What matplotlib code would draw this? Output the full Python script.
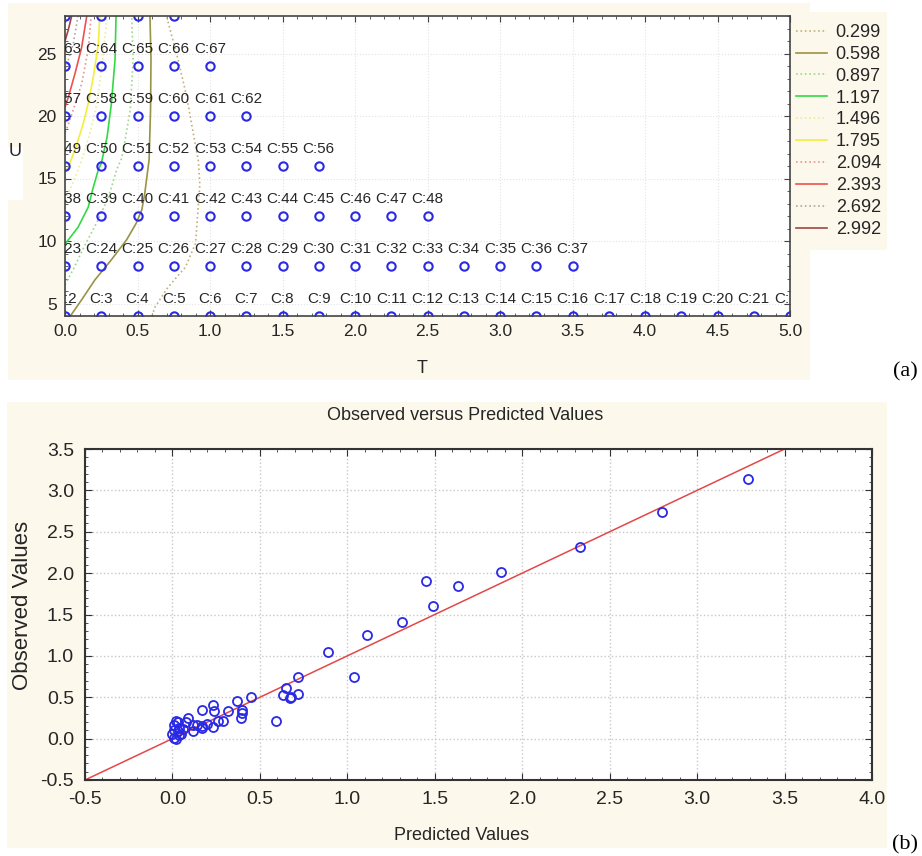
import numpy as np
import matplotlib
matplotlib.use("Agg")
import matplotlib.pyplot as plt
from matplotlib.patches import Rectangle
from matplotlib.ticker import MultipleLocator, FormatStrFormatter
from matplotlib.transforms import ScaledTranslation

# Panel (a): experimental design points (rows of constant U, T step 0.25)
design_U = [4, 8, 12, 16, 20, 24, 28]
design_T_max = [5.0, 3.5, 2.5, 1.75, 1.25, 1.0, 0.75]
first_case = 2

# Panel (a): contour lines, (T, U) pairs
levels = [0.299, 0.598, 0.897, 1.197, 1.496, 1.795, 2.094, 2.393, 2.692, 2.992]
c1_T = [0.60, 0.62, 0.71, 0.83, 0.90, 0.93, 0.92, 0.885, 0.84, 0.78, 0.70]
c1_U = [4.0, 4.7, 6.3, 7.9, 9.8, 14.5, 16.4, 18.6, 21.5, 24.5, 28.0]
c2_T = [0.034, 0.115, 0.207, 0.32, 0.425, 0.49, 0.53, 0.55, 0.58, 0.59, 0.593, 0.586]
c2_U = [3.95, 5.3, 6.9, 8.5, 10.1, 11.4, 12.5, 13.8, 16.5, 20.5, 24.5, 28.0]
c3_T = [0.0, 0.06, 0.13, 0.22, 0.30, 0.356, 0.39, 0.41, 0.45, 0.47, 0.46]
c3_U = [6.5, 7.8, 9.5, 11.5, 13.5, 15.7, 16.6, 17.8, 20.5, 24.5, 28.0]
c4_T = [0.0, 0.01, 0.09, 0.16, 0.195, 0.23, 0.25, 0.29, 0.32, 0.345, 0.352]
c4_U = [9.8, 9.9, 11.1, 12.7, 14.3, 15.7, 16.2, 18.3, 21.0, 24.5, 28.0]
c5_T = [0.0, 0.05, 0.11, 0.17, 0.22, 0.26, 0.29]
c5_U = [13.3, 14.5, 16.3, 18.5, 21.0, 24.5, 28.0]
c6_T = [0.0, 0.023, 0.069, 0.126, 0.16, 0.195, 0.23, 0.24]
c6_U = [15.5, 15.9, 17.3, 19.4, 21.0, 23.1, 25.8, 28.0]
c7_T = [0.0, 0.01, 0.057, 0.115, 0.16, 0.18]
c7_U = [18.7, 18.9, 20.5, 22.6, 25.3, 28.0]
c8_T = [0.0, 0.023, 0.069, 0.115, 0.15]
c8_U = [20.7, 21.5, 23.4, 25.5, 28.0]
c9_T = [0.0, 0.01, 0.057, 0.09]
c9_U = [23.8, 24.0, 25.8, 28.0]
c10_T = [0.0, 0.023, 0.046]
c10_U = [26.0, 26.9, 28.0]
contour_T = [c1_T, c2_T, c3_T, c4_T, c5_T, c6_T, c7_T, c8_T, c9_T, c10_T]
contour_U = [c1_U, c2_U, c3_U, c4_U, c5_U, c6_U, c7_U, c8_U, c9_U, c10_U]
contour_colors = ['#c2b07c', '#9a9246', '#9ad98a', '#33d944', '#ecec9c',
                  '#f4ee3a', '#e89494', '#ee5050', '#b4a4a4', '#a04646']
contour_styles = [':', '-', ':', '-', ':', '-', ':', '-', ':', '-']

# Panel (b): observed versus predicted values
predicted = [3.29, 2.80, 2.33, 1.88, 1.63, 1.45, 1.49, 1.31, 1.11, 1.04,
             0.89, 0.72, 0.72, 0.67, 0.68, 0.65, 0.63, 0.59, 0.45, 0.37,
             0.40, 0.40, 0.39, 0.32, 0.29, 0.26, 0.23, 0.24, 0.23, 0.17,
             0.17, 0.17, 0.12, 0.12, 0.09, 0.08, 0.06, 0.05, 0.04, 0.03,
             0.02, 0.01, 0.01, 0.00, 0.01, 0.02, 0.03, 0.04, 0.14, 0.20]
observed = [3.14, 2.74, 2.31, 2.01, 1.84, 1.91, 1.60, 1.41, 1.25, 0.74,
            1.05, 0.74, 0.54, 0.49, 0.50, 0.61, 0.53, 0.21, 0.50, 0.45,
            0.35, 0.31, 0.25, 0.33, 0.21, 0.21, 0.41, 0.33, 0.14, 0.34,
            0.15, 0.13, 0.17, 0.09, 0.25, 0.20, 0.12, 0.05, 0.04, 0.20,
            0.21, 0.17, 0.11, 0.06, 0.01, 0.00, 0.09, 0.13, 0.17, 0.18]
fit_x = [-0.5, 3.5]

W, H = 922, 856
cream = '#fcf8eb'
txt = '#262626'
plt.rcParams['font.family'] = ['Liberation Sans', 'DejaVu Sans']

fig = plt.figure(figsize=(W / 100, H / 100), dpi=100)
fig.patch.set_facecolor('white')


def box(x0, y0, x1, y1, color=cream):
    fig.add_artist(Rectangle((x0 / W, 1 - y1 / H), (x1 - x0) / W, (y1 - y0) / H,
                             transform=fig.transFigure, color=color, zorder=-5, lw=0))


box(8, 3, 810, 380)
box(792, 12, 887, 250)
box(0, 147, 23, 200, 'white')
box(7, 402, 887, 848)

# ---------------- panel (a) ----------------
ax1 = fig.add_axes([65 / W, 1 - 316 / H, 725 / W, 300 / H])
ax1.set_xlim(0, 5)
ax1.set_ylim(4, 28)

handles = []
for lv, T, U, c, ls in zip(levels, contour_T, contour_U, contour_colors, contour_styles):
    h, = ax1.plot(T, U, color=c, ls=ls, lw=1.2, label=f'{lv:.3f}')
    handles.append(h)

label_shift = ScaledTranslation(0, 12 / 72, fig.dpi_scale_trans)
case = first_case
for u, tmax in zip(design_U, design_T_max):
    Ts = np.arange(0, tmax + 0.001, 0.25)
    ax1.plot(Ts, [u] * len(Ts), 'o', mfc='none', mec='#2a2ae6', ms=6, mew=1.5)
    for t in Ts:
        # labels of the top row fall above the plot area and are not shown
        if u < ax1.get_ylim()[1]:
            ax1.text(t, u, f'C:{case}', ha='center', va='center', fontsize=11,
                     color=txt, clip_on=True,
                     transform=ax1.transData + label_shift)
        case += 1

ax1.xaxis.set_major_locator(MultipleLocator(0.5))
ax1.xaxis.set_minor_locator(MultipleLocator(0.1))
ax1.yaxis.set_major_locator(MultipleLocator(5))
ax1.yaxis.set_minor_locator(MultipleLocator(1))
ax1.xaxis.set_major_formatter(FormatStrFormatter('%.1f'))
ax1.tick_params(which='both', direction='in', top=True, right=True,
                labelsize=12.5, labelcolor=txt, color='#444444')
ax1.tick_params(which='major', length=4, pad=6)
ax1.tick_params(which='minor', length=2)
ax1.grid(True, color='#e4e4e4', ls=':', lw=0.8)
for s in ax1.spines.values():
    s.set_color('#444444')
    s.set_linewidth(1.2)

fig.text(422 / W, 1 - 368 / H, 'T', ha='center', va='center', fontsize=13, color=txt)
fig.text(15 / W, 1 - 152 / H, 'U', ha='center', va='center', fontsize=13, color=txt)
fig.legend(handles=handles, loc='upper left', bbox_to_anchor=(796 / W, 1 - 24 / H),
           frameon=False, fontsize=13, handlelength=1.7, handletextpad=0.5,
           labelspacing=0.27, borderpad=0, borderaxespad=0, labelcolor=txt)
fig.text(905 / W, 1 - 372 / H, '(a)', ha='center', va='center', fontsize=16,
         family='Liberation Serif', color='black')

# ---------------- panel (b) ----------------
ax2 = fig.add_axes([85 / W, 1 - 780 / H, 787 / W, 331 / H])
ax2.set_xlim(-0.5, 4.0)
ax2.set_ylim(-0.5, 3.5)
ax2.plot(fit_x, fit_x, color='#e24848', lw=1.1, zorder=2)
ax2.plot(predicted, observed, 'o', mfc='none', mec='#2a2ae6', ms=6.5, mew=1.3, zorder=3)

for axis in (ax2.xaxis, ax2.yaxis):
    axis.set_major_locator(MultipleLocator(0.5))
    axis.set_minor_locator(MultipleLocator(0.1))
    axis.set_major_formatter(FormatStrFormatter('%.1f'))
ax2.tick_params(which='both', direction='in', top=True, right=True,
                labelsize=14, labelcolor=txt, color='#333333')
ax2.tick_params(which='major', length=5, pad=8)
ax2.tick_params(which='minor', length=2.5)
ax2.grid(True, which='major', color='#c8c8c8', ls=':', lw=1)
for s in ax2.spines.values():
    s.set_color('#333333')
    s.set_linewidth(1.5)

fig.text(465 / W, 1 - 415 / H, 'Observed versus Predicted Values', ha='center',
         va='center', fontsize=13, color=txt)
fig.text(462 / W, 1 - 835 / H, 'Predicted Values', ha='center', va='center',
         fontsize=13, color=txt)
fig.text(22 / W, 1 - 605 / H, 'Observed Values', ha='center', va='center',
         rotation=90, fontsize=16, color=txt)
fig.text(905 / W, 1 - 845 / H, '(b)', ha='center', va='center', fontsize=16,
         family='Liberation Serif', color='black')

fig.savefig('out.png', dpi=100, facecolor='white')
